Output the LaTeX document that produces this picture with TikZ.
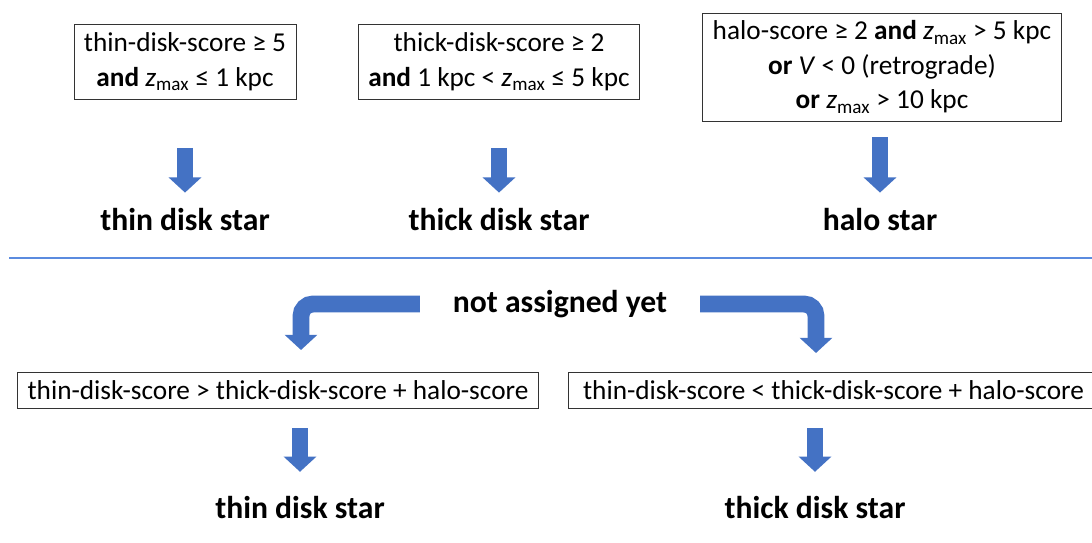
\documentclass[tikz,border=0pt]{standalone}
\usepackage{fontspec}
\setmainfont{Carlito}
\usepackage{tikz}
\usetikzlibrary{arrows.meta,positioning}
\definecolor{arrowblue}{HTML}{4472C4}
\definecolor{lineblue}{HTML}{5B8BDF}
\tikzset{
  rule/.style={draw=black!80,line width=.6pt,align=center,inner xsep=7pt,inner ysep=3pt,font=\fontsize{19.4}{24.5}\selectfont},
  result/.style={font=\fontsize{22.5}{27}\selectfont\bfseries},
  blockflow/.style={-{Triangle[width=.8cm,length=.38cm]},line width=.42cm,draw=arrowblue},
  divider/.style={draw=lineblue,line width=.8pt},
}
\newcommand{\zmax}{\textit{z}\textsubscript{max}}

\begin{document}
\begin{tikzpicture}[x=0.025cm,y=-0.025cm]
	\useasboundingbox (0,0) rectangle (1092,543);
	% first pass
	\node[rule,minimum height=1.875cm] (thinrule) at (185,62) {thin-disk-score ≥ 5\\\textbf{and} \zmax{} ≤ 1 kpc};
	\node[rule,minimum height=1.875cm] (thickrule) at (499,62) {thick-disk-score ≥ 2\\\textbf{and} 1 kpc < \zmax{} ≤ 5 kpc};
	\node[rule,minimum height=2.7cm] (halorule) at (882,67) {halo-score ≥ 2 \textbf{and} \zmax{} > 5 kpc\\\textbf{or} \textit{V} < 0 (retrograde)\\\textbf{or} \zmax{} > 10 kpc};
	\node[result] (thinstar) at (185,220) {thin disk star};
	\node[result] (thickstar) at (499,220) {thick disk star};
	\node[result] (halostar) at (880,220) {halo star};
	\draw[blockflow,shorten <=1.2cm,shorten >=.28cm] (thinrule) -- (thinstar);
	\draw[blockflow,shorten <=1.2cm,shorten >=.28cm] (thickrule) -- (thickstar);
	\draw[blockflow,shorten <=1.75cm,shorten >=.28cm] (halorule.center -| halostar) -- (halostar);
	\draw[divider] (9,258) -- (1092,258);
	% second pass
	\node[result] (rest) at (560,304) {not assigned yet};
	\node[rule,minimum height=.9cm] (thinleft) at (278,390) {thin-disk-score > thick-disk-score + halo-score};
	\node[rule,minimum height=.9cm,minimum width=13.25cm,anchor=west] (thickright) at (568,390) {thin-disk-score < thick-disk-score + halo-score};
	\coordinate (lefttip) at (301,350);
	\coordinate (righttip) at (816,353);
	\draw[blockflow,rounded corners=.3cm] ([xshift=-.7cm]rest.west) -| (lefttip);
	\draw[blockflow,rounded corners=.3cm] ([xshift=.7cm]rest.east) -| (righttip);
	\node[result] (thinfinal) at (300,508) {thin disk star};
	\node[result] (thickfinal) at (815,508) {thick disk star};
	\draw[blockflow,shorten <=.5cm,shorten >=.5cm] (thinleft.south -| thinfinal) -- (thinfinal);
	\draw[blockflow,shorten <=.5cm,shorten >=.5cm] (thickright.south -| thickfinal) -- (thickfinal);
\end{tikzpicture}
\end{document}
